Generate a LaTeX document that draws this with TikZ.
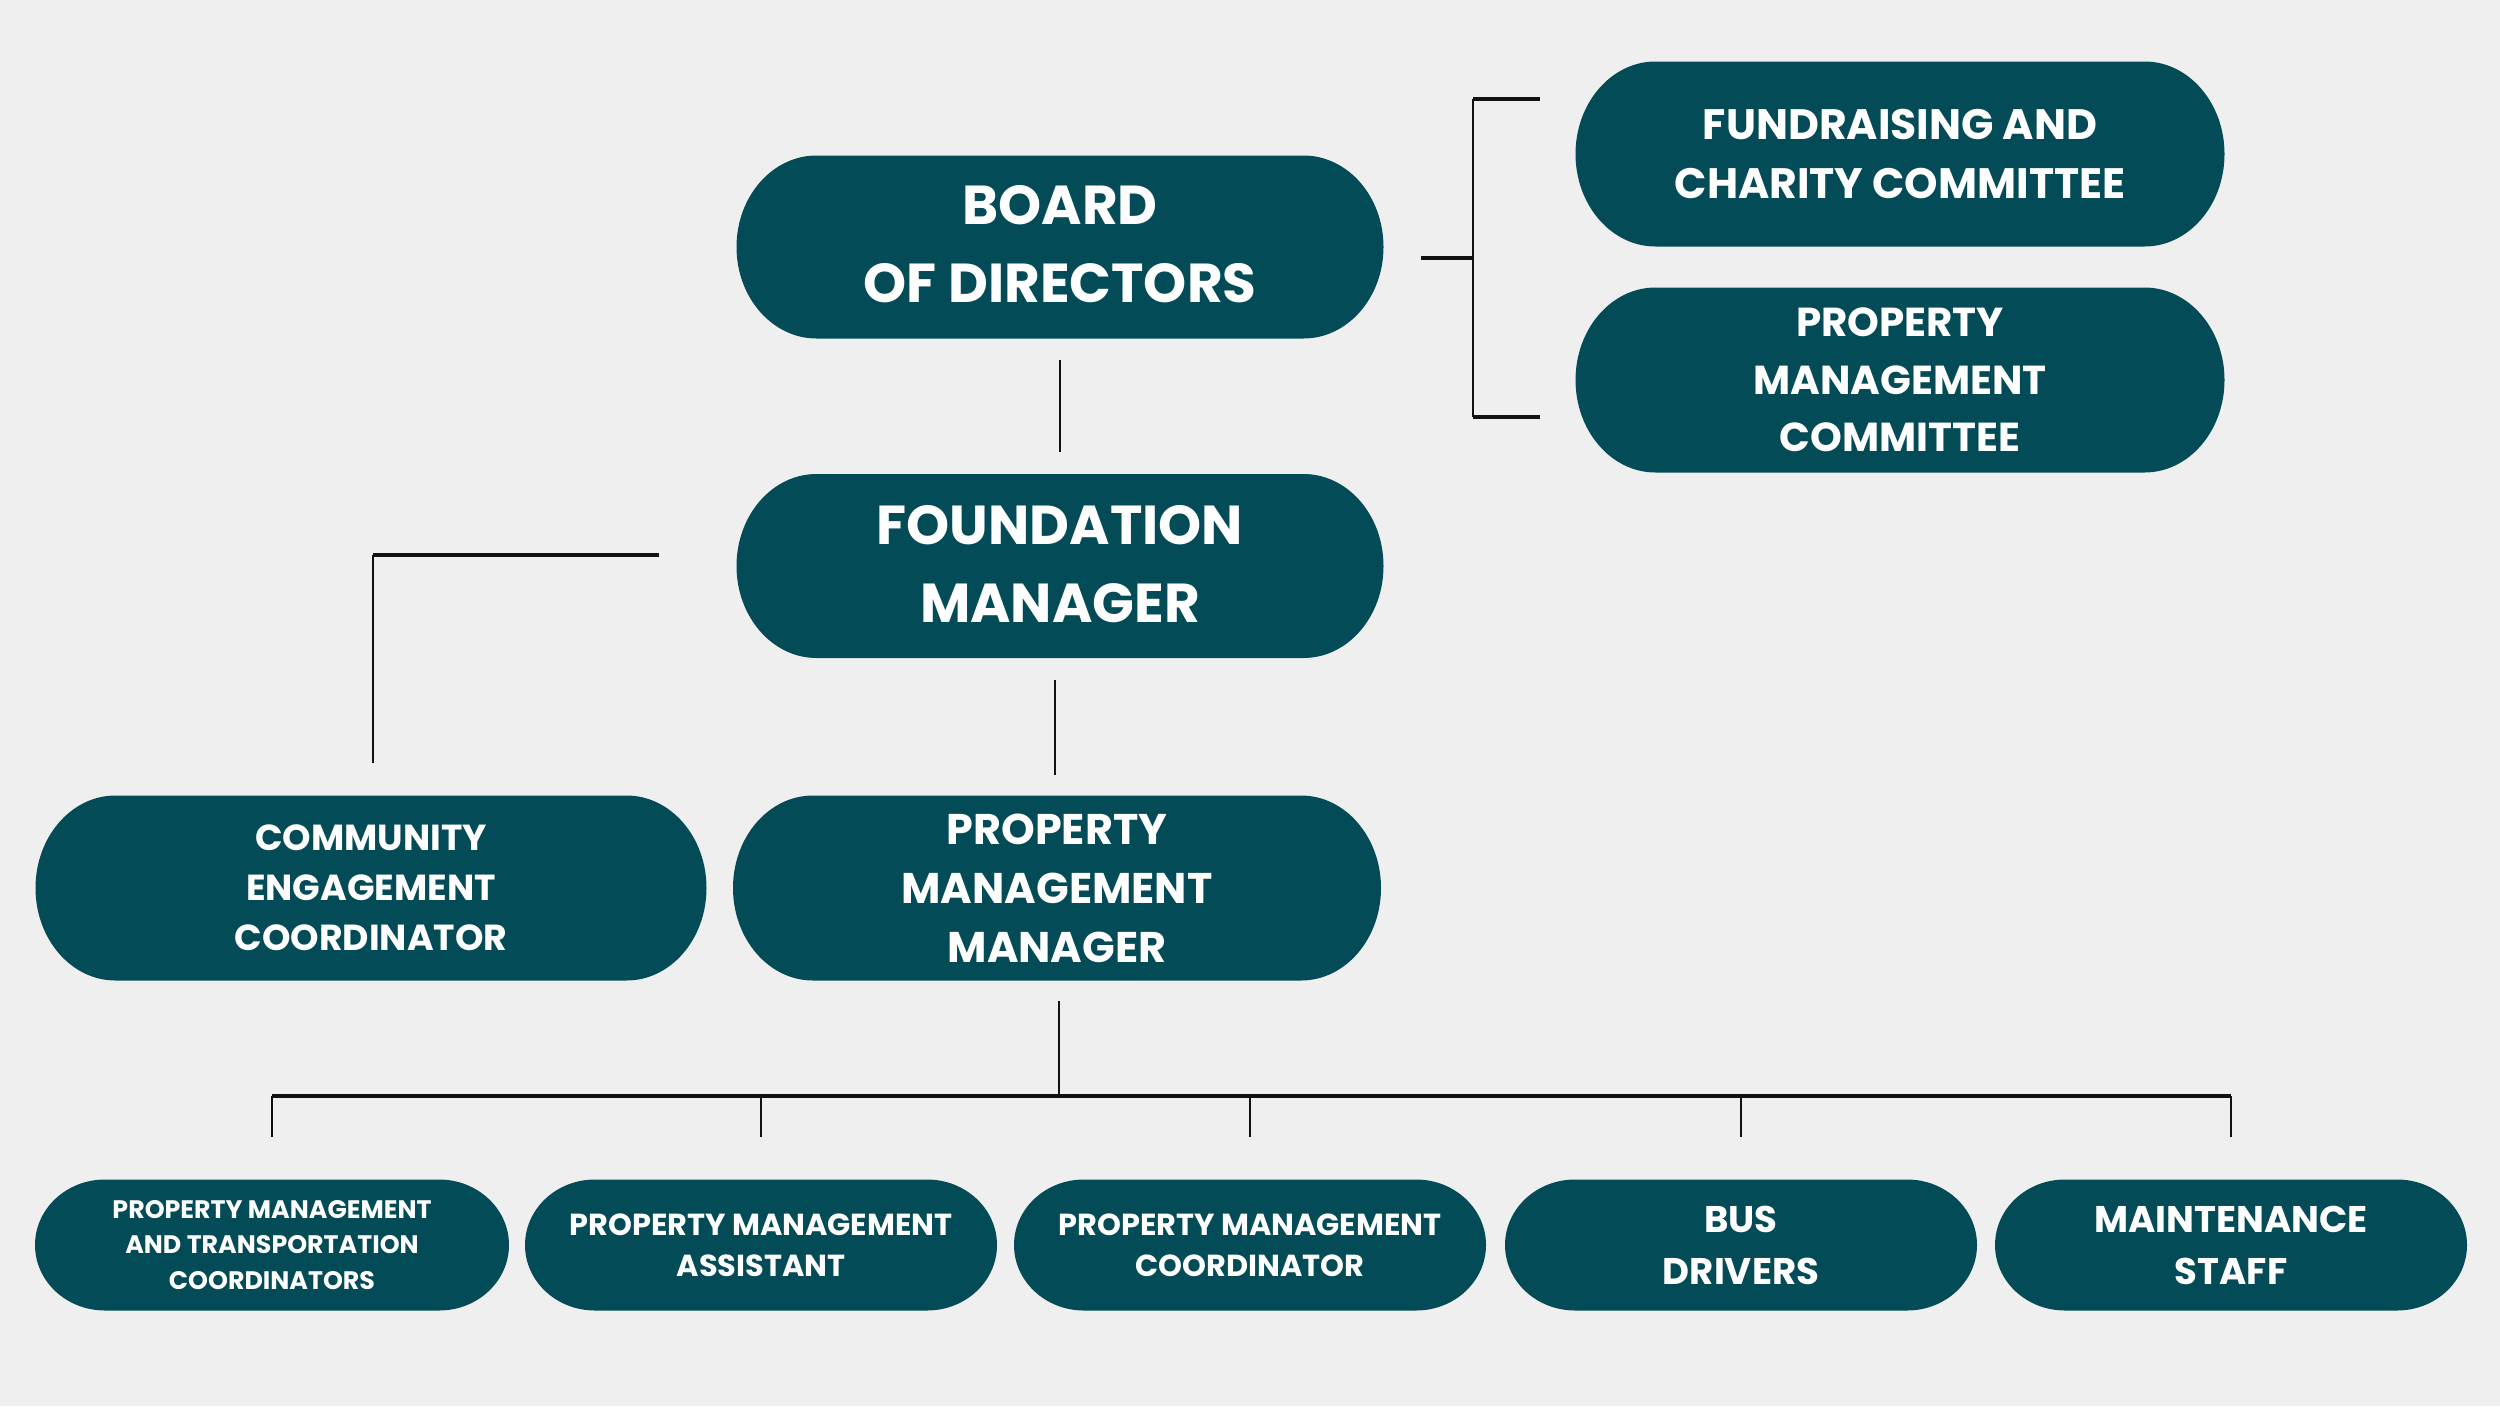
\documentclass[tikz,border=0pt]{standalone}
\usepackage{fontspec}
\setmainfont{Poppins}
\usetikzlibrary{calc}
\definecolor{pillc}{HTML}{024B57}
\definecolor{bgc}{HTML}{EFEFEF}
\definecolor{linec}{HTML}{111111}
\newcommand\pill[8][]{%
  \fill[pillc] ({#3-#5/2+#7},{#4-#6/2}) -- ({#3+#5/2-#7},{#4-#6/2})
    arc[start angle=-90,end angle=90,x radius=#7,y radius=#6/2]
    -- ({#3-#5/2+#7},{#4+#6/2})
    arc[start angle=90,end angle=270,x radius=#7,y radius=#6/2] -- cycle;
  \node[txt,#1,minimum width={#5*0.01cm},minimum height={#6*0.01cm}] (#2) at (#3,#4) {#8};
}
\tikzset{
  txt/.style={text=white,align=center,inner sep=0pt},
  fA/.style={font=\fontsize{15.6}{22}\selectfont\bfseries},
  fB/.style={font=\fontsize{12.1}{16.6}\selectfont\bfseries},
  fBb/.style={font=\fontsize{11.5}{16.4}\selectfont\bfseries},
  fBc/.style={font=\fontsize{12.2}{16.8}\selectfont\bfseries},
  fC/.style={font=\fontsize{10.3}{14.2}\selectfont\bfseries},
  fD/.style={font=\fontsize{7.2}{10}\selectfont\bfseries},
  fE/.style={font=\fontsize{8.65}{11.7}\selectfont\bfseries},
  fF/.style={font=\fontsize{10.55}{14.8}\selectfont\bfseries},
  thn/.style={draw=linec,line width=0.6pt},
  thk/.style={draw=linec,line width=1.1pt},
}
\begin{document}
\begin{tikzpicture}[x=0.01cm,y=-0.01cm]
\fill[bgc] (0,0) rectangle (2500,1406);
\useasboundingbox (0,0) rectangle (2500,1406);
% nodes
\pill[fA,yshift=0.03cm]{board}{1060}{247}{647}{183}{80}{BOARD\\OF DIRECTORS}
\pill[fB]{fund}{1900}{154}{649}{185}{80}{FUNDRAISING AND\\CHARITY COMMITTEE}
\pill[fBb]{pmc}{1900}{380}{649}{185}{80}{PROPERTY\\MANAGEMENT\\COMMITTEE}
\pill[fA,yshift=0.02cm]{fm}{1060}{566}{647}{184}{80}{FOUNDATION\\MANAGER}
\pill[fC]{ce}{371}{888}{671}{185}{80}{COMMUNITY\\ENGAGEMENT\\COORDINATOR}
\pill[fBc]{pmm}{1057}{888}{648}{185}{80}{PROPERTY\\MANAGEMENT\\MANAGER}
\pill[fD]{b1}{272}{1245}{474}{131}{70}{PROPERTY MANAGEMENT\\AND TRANSPORTATION\\COORDINATORS}
\pill[fE]{b2}{761}{1245}{472}{131}{70}{PROPERTY MANAGEMENT\\ASSISTANT}
\pill[fE]{b3}{1250}{1245}{472}{131}{70}{PROPERTY MANAGEMENT\\COORDINATOR}
\pill[fF]{b4}{1741}{1245}{472}{131}{70}{BUS\\DRIVERS}
\pill[fF]{b5}{2231}{1245}{472}{131}{70}{MAINTENANCE\\STAFF}
% connectors
\draw[thn] ($(board.south)+(0,24)$) -- ($(fm.north)+(0,-19)$);
\coordinate (brk) at (1473,258);
\coordinate (brkT) at (1473,99);
\coordinate (brkB) at (1473,417);
\coordinate (fundIn) at (1540,99);
\coordinate (pmcIn) at (1540,417);
\draw[thk] ($(brk -| board.east)+(37,0)$) -- (brk);
\draw[thn] (brkT) -- (brkB);
\draw[thk] (brkT) -- (fundIn);
\draw[thk] (brkB) -- (pmcIn);
\coordinate (ceC) at (373,555);
\draw[thk] ($(ceC -| fm.west)+(-77,0)$) -- (ceC);
\draw[thn] (ceC) -- ($(ce.north)+(2,-32)$);
\draw[thn] ($(fm.south)+(-5,23)$) -- ($(pmm.north)+(-2,-20)$);
\coordinate (bus) at (1059,1096);
\draw[thn] ($(pmm.south)+(2,20)$) -- (bus);
\draw[thk] (b1.north |- bus) -- (b5.north |- bus);
\foreach \b in {b1,b2,b3,b4,b5}
  \draw[thn] (\b.north |- bus) -- ($(\b.north)+(0,-42)$);
\end{tikzpicture}
\end{document}
